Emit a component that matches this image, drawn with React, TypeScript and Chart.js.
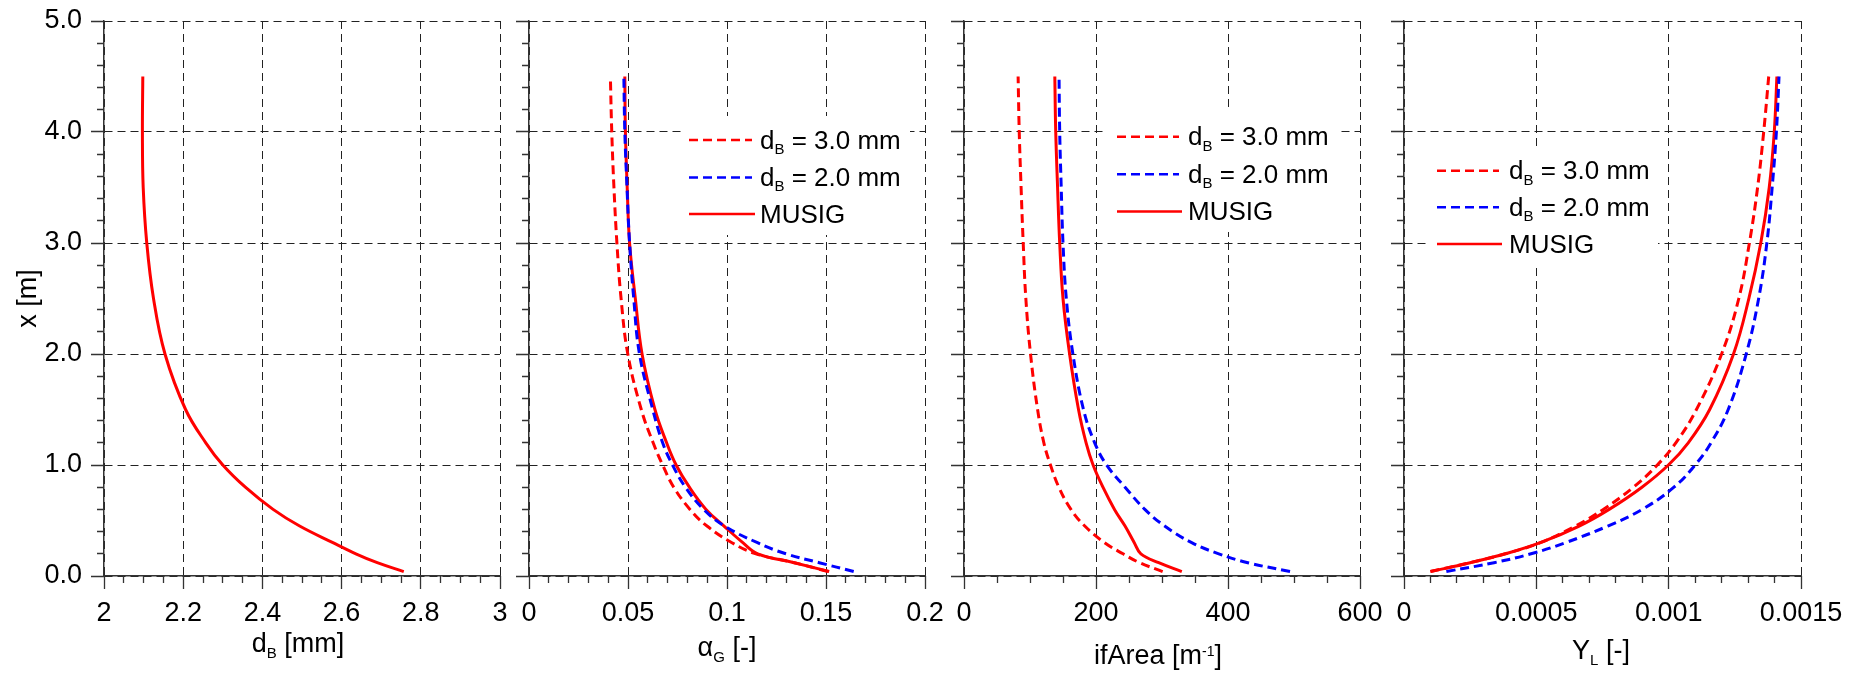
import React, { useEffect, useRef } from "react";
import { Chart, registerables } from "chart.js";

Chart.register(...registerables);

// ---------------- data ----------------
// heights x [m] at which every profile was read
const heights = [4.5, 4.0, 3.5, 3.0, 2.5, 2.0, 1.5, 1.2, 1.0, 0.8, 0.6, 0.45, 0.3, 0.2, 0.12, 0.04];

// panel 1: bubble diameter d_B [mm] (MUSIG)
const dBMusig = [2.098, 2.097, 2.099, 2.108, 2.125, 2.154, 2.206, 2.257, 2.3, 2.357, 2.427, 2.494, 2.578, 2.636, 2.69, 2.757];

// panel 2: gas volume fraction alpha_G [-]
const alphaD30 = [0.0411, 0.0418, 0.0429, 0.0444, 0.0465, 0.0499, 0.0567, 0.0627, 0.0675, 0.0731, 0.0813, 0.0899, 0.1025, 0.1146, 0.134, 0.151];
const alphaD20 = [0.0479, 0.0484, 0.0495, 0.0508, 0.0529, 0.0558, 0.0625, 0.0675, 0.0725, 0.079, 0.0882, 0.0987, 0.1154, 0.1297, 0.1466, 0.164];
const alphaMusig = [0.0484, 0.0487, 0.0496, 0.0508, 0.0537, 0.0571, 0.0636, 0.0695, 0.0743, 0.081, 0.0894, 0.0985, 0.108, 0.1155, 0.134, 0.1516];

// panel 3: interfacial area density [1/m]
const areaD30 = [82, 83.7, 86.5, 89.7, 93.7, 100.8, 111.5, 121, 131, 143.7, 162, 183, 213, 241, 266, 301];
const areaD20 = [144, 145, 147.3, 150, 155, 165, 181, 198, 216, 244, 274, 304, 345, 386, 430, 494];
const areaMusig = [137.6, 139, 141.8, 145, 150, 160, 173.5, 185, 195.6, 210.5, 228, 244, 258, 268, 295, 330];

// panel 4: liquid mass fraction Y_L [-]
const ylD30 = [0.001378, 0.001359, 0.001336, 0.001305, 0.001265, 0.0012, 0.001105, 0.001027, 0.000957, 0.000867, 0.000753, 0.000648, 0.000515, 0.000383, 0.00025, 0.0001];
const ylD20 = [0.001417, 0.001407, 0.001391, 0.001371, 0.00134, 0.001293, 0.001225, 0.00116, 0.0011, 0.00102, 0.0009, 0.00077, 0.00061, 0.00048, 0.00034, 0.00016];
const ylMusig = [0.001409, 0.001399, 0.00138, 0.001348, 0.001303, 0.001245, 0.001155, 0.001074, 0.000999, 0.000899, 0.000775, 0.000662, 0.000515, 0.000383, 0.00025, 0.0001];

// labels
const seriesLabels = ["d_{B} = 3.0 mm", "d_{B} = 2.0 mm", "MUSIG"];
const xTitles = ["d_{B} [mm]", "α_{G} [-]", "ifArea [m^{-1}]", "Y_{L} [-]"];
const yTitle = "x [m]";

// axis ranges
const xMins = [2, 0, 0, 0];
const xMaxs = [3, 0.2, 600, 0.0015];
const xSteps = [0.2, 0.05, 200, 0.0005];
const xMinorSteps = [0.05, 0.01, 50, 0.0001];
const yMin = 0;
const yMax = 5;
const yStep = 1;
const yMinorStep = 0.2;

// ---------------- layout / style ----------------
const W = 1861;
const H = 673;
const TOP = 21;
const BOTTOM = 576;
const FAMILY = '"Liberation Sans", Arial, Helvetica, sans-serif';
const RED = "#ff0000";
const BLUE = "#0000ff";
const DASH = [9, 5];
const GRID_DASH = [8, 5];
const AXIS_COLOR = "#333333";

type Legend = { box: [number, number, number, number]; line: [number, number]; rows: number[]; textX: number };
type Panel = {
  left: number;
  right: number;
  yAxisWidth: number;
  showYLabels: boolean;
  titleX: number;
  titleY: number;
  legend: Legend | null;
  series: { values: number[]; color: string; dash: number[]; label: string }[];
};

const PANELS: Panel[] = [
  {
    left: 104, right: 500, yAxisWidth: 104, showYLabels: true, titleX: 298, titleY: 652, legend: null,
    series: [{ values: dBMusig, color: RED, dash: [], label: seriesLabels[2] }],
  },
  {
    left: 529, right: 925, yAxisWidth: 20, showYLabels: false, titleX: 727, titleY: 656,
    legend: { box: [685, 116, 225, 119], line: [689, 752], rows: [140, 177.5, 214], textX: 760 },
    series: [
      { values: alphaD30, color: RED, dash: DASH, label: seriesLabels[0] },
      { values: alphaD20, color: BLUE, dash: DASH, label: seriesLabels[1] },
      { values: alphaMusig, color: RED, dash: [], label: seriesLabels[2] },
    ],
  },
  {
    left: 964, right: 1360, yAxisWidth: 20, showYLabels: false, titleX: 1158, titleY: 664,
    legend: { box: [1105, 112, 235, 120], line: [1117, 1179], rows: [136.7, 174.3, 211.5], textX: 1188 },
    series: [
      { values: areaD30, color: RED, dash: DASH, label: seriesLabels[0] },
      { values: areaD20, color: BLUE, dash: DASH, label: seriesLabels[1] },
      { values: areaMusig, color: RED, dash: [], label: seriesLabels[2] },
    ],
  },
  {
    left: 1404, right: 1801, yAxisWidth: 20, showYLabels: false, titleX: 1601, titleY: 659,
    legend: { box: [1429, 146, 229, 117], line: [1437, 1499], rows: [170.7, 207.3, 244], textX: 1509 },
    series: [
      { values: ylD30, color: RED, dash: DASH, label: seriesLabels[0] },
      { values: ylD20, color: BLUE, dash: DASH, label: seriesLabels[1] },
      { values: ylMusig, color: RED, dash: [], label: seriesLabels[2] },
    ],
  },
];

// ---------------- rich text (sub / superscripts) ----------------
type Part = { t: string; k: "n" | "sub" | "sup" };
function parseRich(s: string): Part[] {
  const out: Part[] = [];
  let buf = "";
  let i = 0;
  while (i < s.length) {
    const c = s[i];
    if ((c === "_" || c === "^") && s[i + 1] === "{") {
      if (buf) { out.push({ t: buf, k: "n" }); buf = ""; }
      const end = s.indexOf("}", i);
      out.push({ t: s.slice(i + 2, end), k: c === "_" ? "sub" : "sup" });
      i = end + 1;
    } else {
      buf += c;
      i++;
    }
  }
  if (buf) out.push({ t: buf, k: "n" });
  return out;
}

function drawRich(ctx: CanvasRenderingContext2D, s: string, x: number, y: number, size: number, align: "left" | "center") {
  const parts = parseRich(s);
  const fontFor = (k: Part["k"]) =>
    k === "n" ? `${size}px ${FAMILY}` : k === "sub" ? `${Math.round(size * 0.57)}px ${FAMILY}` : `${Math.round(size * 0.5)}px ${FAMILY}`;
  const widths = parts.map((p) => { ctx.font = fontFor(p.k); return ctx.measureText(p.t).width; });
  const total = widths.reduce((a, b) => a + b, 0);
  let cx = align === "center" ? x - total / 2 : x;
  ctx.textAlign = "left";
  ctx.textBaseline = "alphabetic";
  parts.forEach((p, i) => {
    ctx.font = fontFor(p.k);
    const dy = p.k === "sub" ? size * 0.21 : p.k === "sup" ? -size * 0.3 : 0;
    ctx.fillText(p.t, cx, y + dy);
    cx += widths[i];
  });
}

const fmt = (v: number | string) => String(Number(Number(v).toPrecision(12)));

const align = (px: number) => Math.round(px - 0.5) + 0.5;

function decorPlugin(p: Panel, idx: number) {
  return {
    id: "decor" + idx,
    afterDraw(chart: any) {
      const ctx: CanvasRenderingContext2D = chart.ctx;
      const a = chart.chartArea;
      const xs = chart.scales.x;
      const ys = chart.scales.y;
      ctx.save();
      ctx.setLineDash([]);
      ctx.strokeStyle = AXIS_COLOR;
      ctx.lineWidth = 1.3;
      ctx.beginPath();
      const xmin = xMins[idx];
      const nx = Math.round((xMaxs[idx] - xmin) / xMinorSteps[idx]);
      const rx = Math.round(xSteps[idx] / xMinorSteps[idx]);
      for (let i = 0; i <= nx; i++) {
        const px = align(xs.getPixelForValue(xmin + i * xMinorSteps[idx]));
        const len = i % rx === 0 ? 13 : 7;
        ctx.moveTo(px, a.bottom);
        ctx.lineTo(px, a.bottom + len);
      }
      const ny = Math.round((yMax - yMin) / yMinorStep);
      const ry = Math.round(yStep / yMinorStep);
      for (let i = 0; i <= ny; i++) {
        const py = align(ys.getPixelForValue(yMin + i * yMinorStep));
        const len = i % ry === 0 ? 13 : 7;
        ctx.moveTo(a.left, py);
        ctx.lineTo(a.left - len, py);
      }
      ctx.stroke();

      // legend
      if (p.legend) {
        const lg = p.legend;
        ctx.fillStyle = "#ffffff";
        ctx.fillRect(lg.box[0], lg.box[1], lg.box[2], lg.box[3]);
        chart.data.datasets.forEach((ds: any, i: number) => {
          const y = lg.rows[i];
          ctx.save();
          ctx.strokeStyle = ds.borderColor;
          ctx.lineWidth = 2.6;
          ctx.setLineDash(ds.borderDash || []);
          ctx.beginPath();
          ctx.moveTo(lg.line[0], y);
          ctx.lineTo(lg.line[1] + (ds.borderDash && ds.borderDash.length ? 0 : 3), y);
          ctx.stroke();
          ctx.restore();
          ctx.fillStyle = "#000";
          drawRich(ctx, ds.label, lg.textX, y + 8.5, 26, "left");
        });
      }

      // x-axis title
      ctx.fillStyle = "#000";
      drawRich(ctx, xTitles[idx], p.titleX, p.titleY, 27, "center");
      ctx.restore();
    },
  };
}

const zeroPad = (s: any) => { s.paddingTop = 0; s.paddingBottom = 0; s.paddingLeft = 0; s.paddingRight = 0; };

function buildChart(canvas: HTMLCanvasElement, p: Panel, idx: number) {
  const datasets = p.series.map((s) => ({
    label: s.label,
    data: heights.map((h, i) => ({ x: s.values[i], y: h })).reverse(),
    borderColor: s.color,
    backgroundColor: s.color,
    borderDash: s.dash,
    borderWidth: 3,
    pointRadius: 0,
    tension: 0.4,
    fill: false,
  }));
  return new Chart(canvas, {
    type: "line",
    data: { datasets },
    options: {
      indexAxis: "y",
      animation: false,
      responsive: false,
      devicePixelRatio: 1,
      events: [],
      layout: { padding: { left: p.left - p.yAxisWidth, right: W - p.right, top: TOP, bottom: 0 } },
      plugins: { legend: { display: false }, tooltip: { enabled: false }, title: { display: false } },
      scales: {
        x: {
          type: "linear",
          position: "bottom",
          min: xMins[idx],
          max: xMaxs[idx],
          afterFit: (s: any) => { s.height = H - BOTTOM; zeroPad(s); },
          ticks: {
            stepSize: xSteps[idx],
            autoSkip: false,
            maxRotation: 0,
            padding: 21,
            color: "#000",
            font: { family: FAMILY, size: 27 },
            callback: (v: any) => fmt(v),
          },
          grid: { color: "#222222", lineWidth: 1, drawTicks: false },
          border: { display: true, color: AXIS_COLOR, width: 1.5, dash: GRID_DASH },
        },
        y: {
          type: "linear",
          position: "left",
          min: yMin,
          max: yMax,
          afterFit: (s: any) => { s.width = p.yAxisWidth; zeroPad(s); },
          ticks: {
            display: p.showYLabels,
            stepSize: yStep,
            padding: 22,
            color: "#000",
            font: { family: FAMILY, size: 27 },
            callback: (v: any) => Number(v).toFixed(1),
          },
          title: {
            display: p.showYLabels,
            text: yTitle,
            color: "#000",
            font: { family: FAMILY, size: 27 },
            padding: { top: 12, bottom: 0 },
          },
          grid: { color: "#222222", lineWidth: 1, drawTicks: false },
          border: { display: true, color: AXIS_COLOR, width: 1.5, dash: GRID_DASH },
        },
      },
    } as any,
    plugins: [decorPlugin(p, idx)],
  });
}

export default function App() {
  const refs = useRef<(HTMLCanvasElement | null)[]>([]);
  useEffect(() => {
    document.body.style.margin = "0";
    const charts = PANELS.map((p, i) => buildChart(refs.current[i] as HTMLCanvasElement, p, i));
    return () => charts.forEach((c) => c.destroy());
  }, []);
  return (
    <div style={{ position: "relative", width: W, height: H, background: "#fff" }}>
      {PANELS.map((_, i) => (
        <canvas
          key={i}
          ref={(el) => { refs.current[i] = el; }}
          width={W}
          height={H}
          style={{ position: "absolute", left: 0, top: 0, width: W, height: H }}
        />
      ))}
    </div>
  );
}
